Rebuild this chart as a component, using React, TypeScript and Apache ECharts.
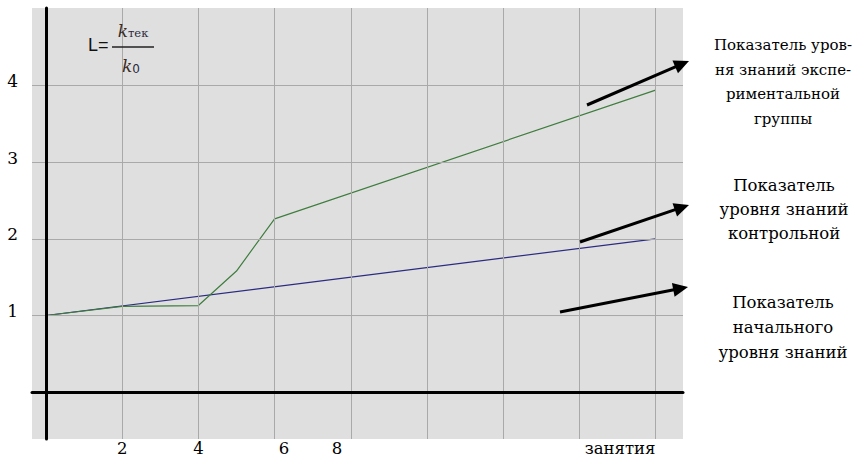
import React, { useEffect, useRef } from "react";
import * as echarts from "echarts";

// ---- data (x = номер занятия, y = L) ----
const greenSessions = [0, 2, 4, 5, 6, 16];
const greenValues = [1, 1.12, 1.13, 1.58, 2.26, 3.94];
const blueSessions = [0, 16];
const blueValues = [1, 2];
const redSessions = [0, 16];
const redValues = [1, 1];

const xGridValues = [2, 4, 6, 8, 10, 12, 14, 16];
const yGridValues = [1, 2, 3, 4];

const xTickPositions = [2, 4, 6.25, 7.64, 15.07];
const xTickLabels = ["2", "4", "6", "8", "занятия"];
const yTickValues = [1, 2, 3, 4];
const yTickLabels = ["1", "2", "3", "4"];

const callout1 = ["Показатель уров-", "ня знаний экспе-", "риментальной", "группы"];
const callout2 = ["Показатель", "уровня знаний", "контрольной"];
const callout3 = ["Показатель", "начального", "уровня знаний"];

const SERIF = "DejaVu Serif";

function arrow(x1: number, y1: number, x2: number, y2: number) {
  const ang = Math.atan2(y2 - y1, x2 - x1);
  const len = 15;
  const hw = 7;
  const bx = x2 - len * Math.cos(ang);
  const by = y2 - len * Math.sin(ang);
  const nx = -Math.sin(ang);
  const ny = Math.cos(ang);
  return [
    {
      type: "line",
      shape: { x1, y1, x2: bx + 2 * Math.cos(ang), y2: by + 2 * Math.sin(ang) },
      style: { stroke: "#000", lineWidth: 3 },
      z: 10,
    },
    {
      type: "polygon",
      shape: {
        points: [
          [x2, y2],
          [bx + nx * hw, by + ny * hw],
          [bx - nx * hw, by - ny * hw],
        ],
      },
      style: { fill: "#000" },
      z: 10,
    },
  ];
}

export default function App() {
  const ref = useRef<HTMLDivElement>(null);
  useEffect(() => {
    if (!ref.current) return;
    const chart = echarts.init(ref.current, undefined, { renderer: "svg" });
    const option: any = {
      animation: false,
      backgroundColor: "#ffffff",
      grid: {
        left: 32,
        right: 174,
        top: 8,
        bottom: 19,
        show: true,
        backgroundColor: "#dfdfdf",
        borderWidth: 0,
        containLabel: false,
        outerBoundsMode: "none",
      },
      xAxis: {
        type: "value",
        min: -0.367,
        max: 16.72,
        z: 5,
        axisLine: { show: true, onZero: true, lineStyle: { color: "#000", width: 3 } },
        axisTick: { show: false },
        splitLine: { show: false },
        axisLabel: {
          show: true,
          customValues: xTickPositions,
          formatter: (v: number) => {
            const i = xTickPositions.findIndex((p) => Math.abs(p - v) < 1e-6);
            return i >= 0 ? xTickLabels[i] : "";
          },
          margin: 1,
          color: "#000",
          fontFamily: SERIF,
          fontSize: 16.5,
        },
      },
      yAxis: {
        type: "value",
        min: -0.61,
        max: 5.01,
        z: 5,
        axisLine: { show: true, onZero: true, lineStyle: { color: "#000", width: 3 } },
        axisTick: { show: false },
        splitLine: { show: false },
        axisLabel: {
          show: true,
          customValues: yTickValues,
          formatter: (v: number) => {
            const i = yTickValues.findIndex((p) => Math.abs(p - v) < 1e-6);
            return i >= 0 ? yTickLabels[i] : "";
          },
          margin: 14,
          verticalAlign: "bottom",
          lineHeight: 9,
          color: "#000",
          fontFamily: SERIF,
          fontSize: 17,
        },
      },
      series: [
        {
          type: "line",
          name: "grid",
          data: [],
          z: 1,
          silent: true,
          markLine: {
            silent: true,
            symbol: "none",
            label: { show: false },
            lineStyle: { color: "#a9a9a9", width: 1, type: "solid" },
            emphasis: { disabled: true },
            data: [
              ...xGridValues.map((v) => ({ xAxis: v })),
              ...yGridValues.map((v) => ({ yAxis: v })),
            ],
          },
        },
        {
          type: "line",
          name: "начальный",
          data: redSessions.map((x, i) => [x, redValues[i]]),
          showSymbol: false,
          z: 3,
          lineStyle: { color: "#b8383a", width: 1 },
        },
        {
          type: "line",
          name: "контрольная",
          data: blueSessions.map((x, i) => [x, blueValues[i]]),
          showSymbol: false,
          z: 3,
          lineStyle: { color: "#2b2b80", width: 1.2 },
        },
        {
          type: "line",
          name: "экспериментальная",
          data: greenSessions.map((x, i) => [x, greenValues[i]]),
          showSymbol: false,
          z: 4,
          lineStyle: { color: "#3f7d3f", width: 1.2 },
        },
      ],
      graphic: [
        {
          type: "text",
          left: 88,
          top: 36,
          z: 10,
          style: {
            text: "L=",
            fontFamily: "Liberation Sans",
            fontSize: 18,
            fill: "#111",
          },
        },
        {
          type: "line",
          z: 10,
          shape: { x1: 112, y1: 47, x2: 154, y2: 47 },
          style: { stroke: "#222", lineWidth: 1.3 },
        },
        {
          type: "text",
          x: 133,
          y: 31,
          z: 10,
          style: {
            text: "{k|k}{s|тек}",
            align: "center",
            verticalAlign: "middle",
            fill: "#2a2a2a",
            rich: {
              k: { fontFamily: SERIF, fontStyle: "italic", fontSize: 17, fill: "#3a2a20" },
              s: { fontFamily: SERIF, fontSize: 11.5, fill: "#2a2a40", padding: [4, 0, 0, 0] },
            },
          },
        },
        {
          type: "text",
          x: 131,
          y: 66,
          z: 10,
          style: {
            text: "{k|k}{s|0}",
            align: "center",
            verticalAlign: "middle",
            rich: {
              k: { fontFamily: SERIF, fontStyle: "italic", fontSize: 17, fill: "#3a2a20" },
              s: { fontFamily: "DejaVu Sans", fontSize: 12, fill: "#2a2a40", padding: [6, 0, 0, 0] },
            },
          },
        },
        {
          type: "text",
          x: 783,
          y: 82,
          z: 10,
          style: {
            text: callout1.join("\n"),
            align: "center",
            verticalAlign: "middle",
            fontFamily: SERIF,
            fontSize: 15,
            lineHeight: 24.5,
            fill: "#000",
          },
        },
        {
          type: "text",
          x: 784,
          y: 209,
          z: 10,
          style: {
            text: callout2.join("\n"),
            align: "center",
            verticalAlign: "middle",
            fontFamily: SERIF,
            fontSize: 16.5,
            lineHeight: 24,
            fill: "#000",
          },
        },
        {
          type: "text",
          x: 783,
          y: 327,
          z: 10,
          style: {
            text: callout3.join("\n"),
            align: "center",
            verticalAlign: "middle",
            fontFamily: SERIF,
            fontSize: 16.5,
            lineHeight: 25,
            fill: "#000",
          },
        },
        ...arrow(587, 105, 689, 61),
        ...arrow(580, 242, 689, 205),
        ...arrow(560, 312, 688, 287),
      ],
    };
    chart.setOption(option);
    return () => chart.dispose();
  }, []);
  return (
    <div
      ref={ref}
      style={{ position: "fixed", left: 0, top: 0, width: 857, height: 458 }}
    />
  );
}
